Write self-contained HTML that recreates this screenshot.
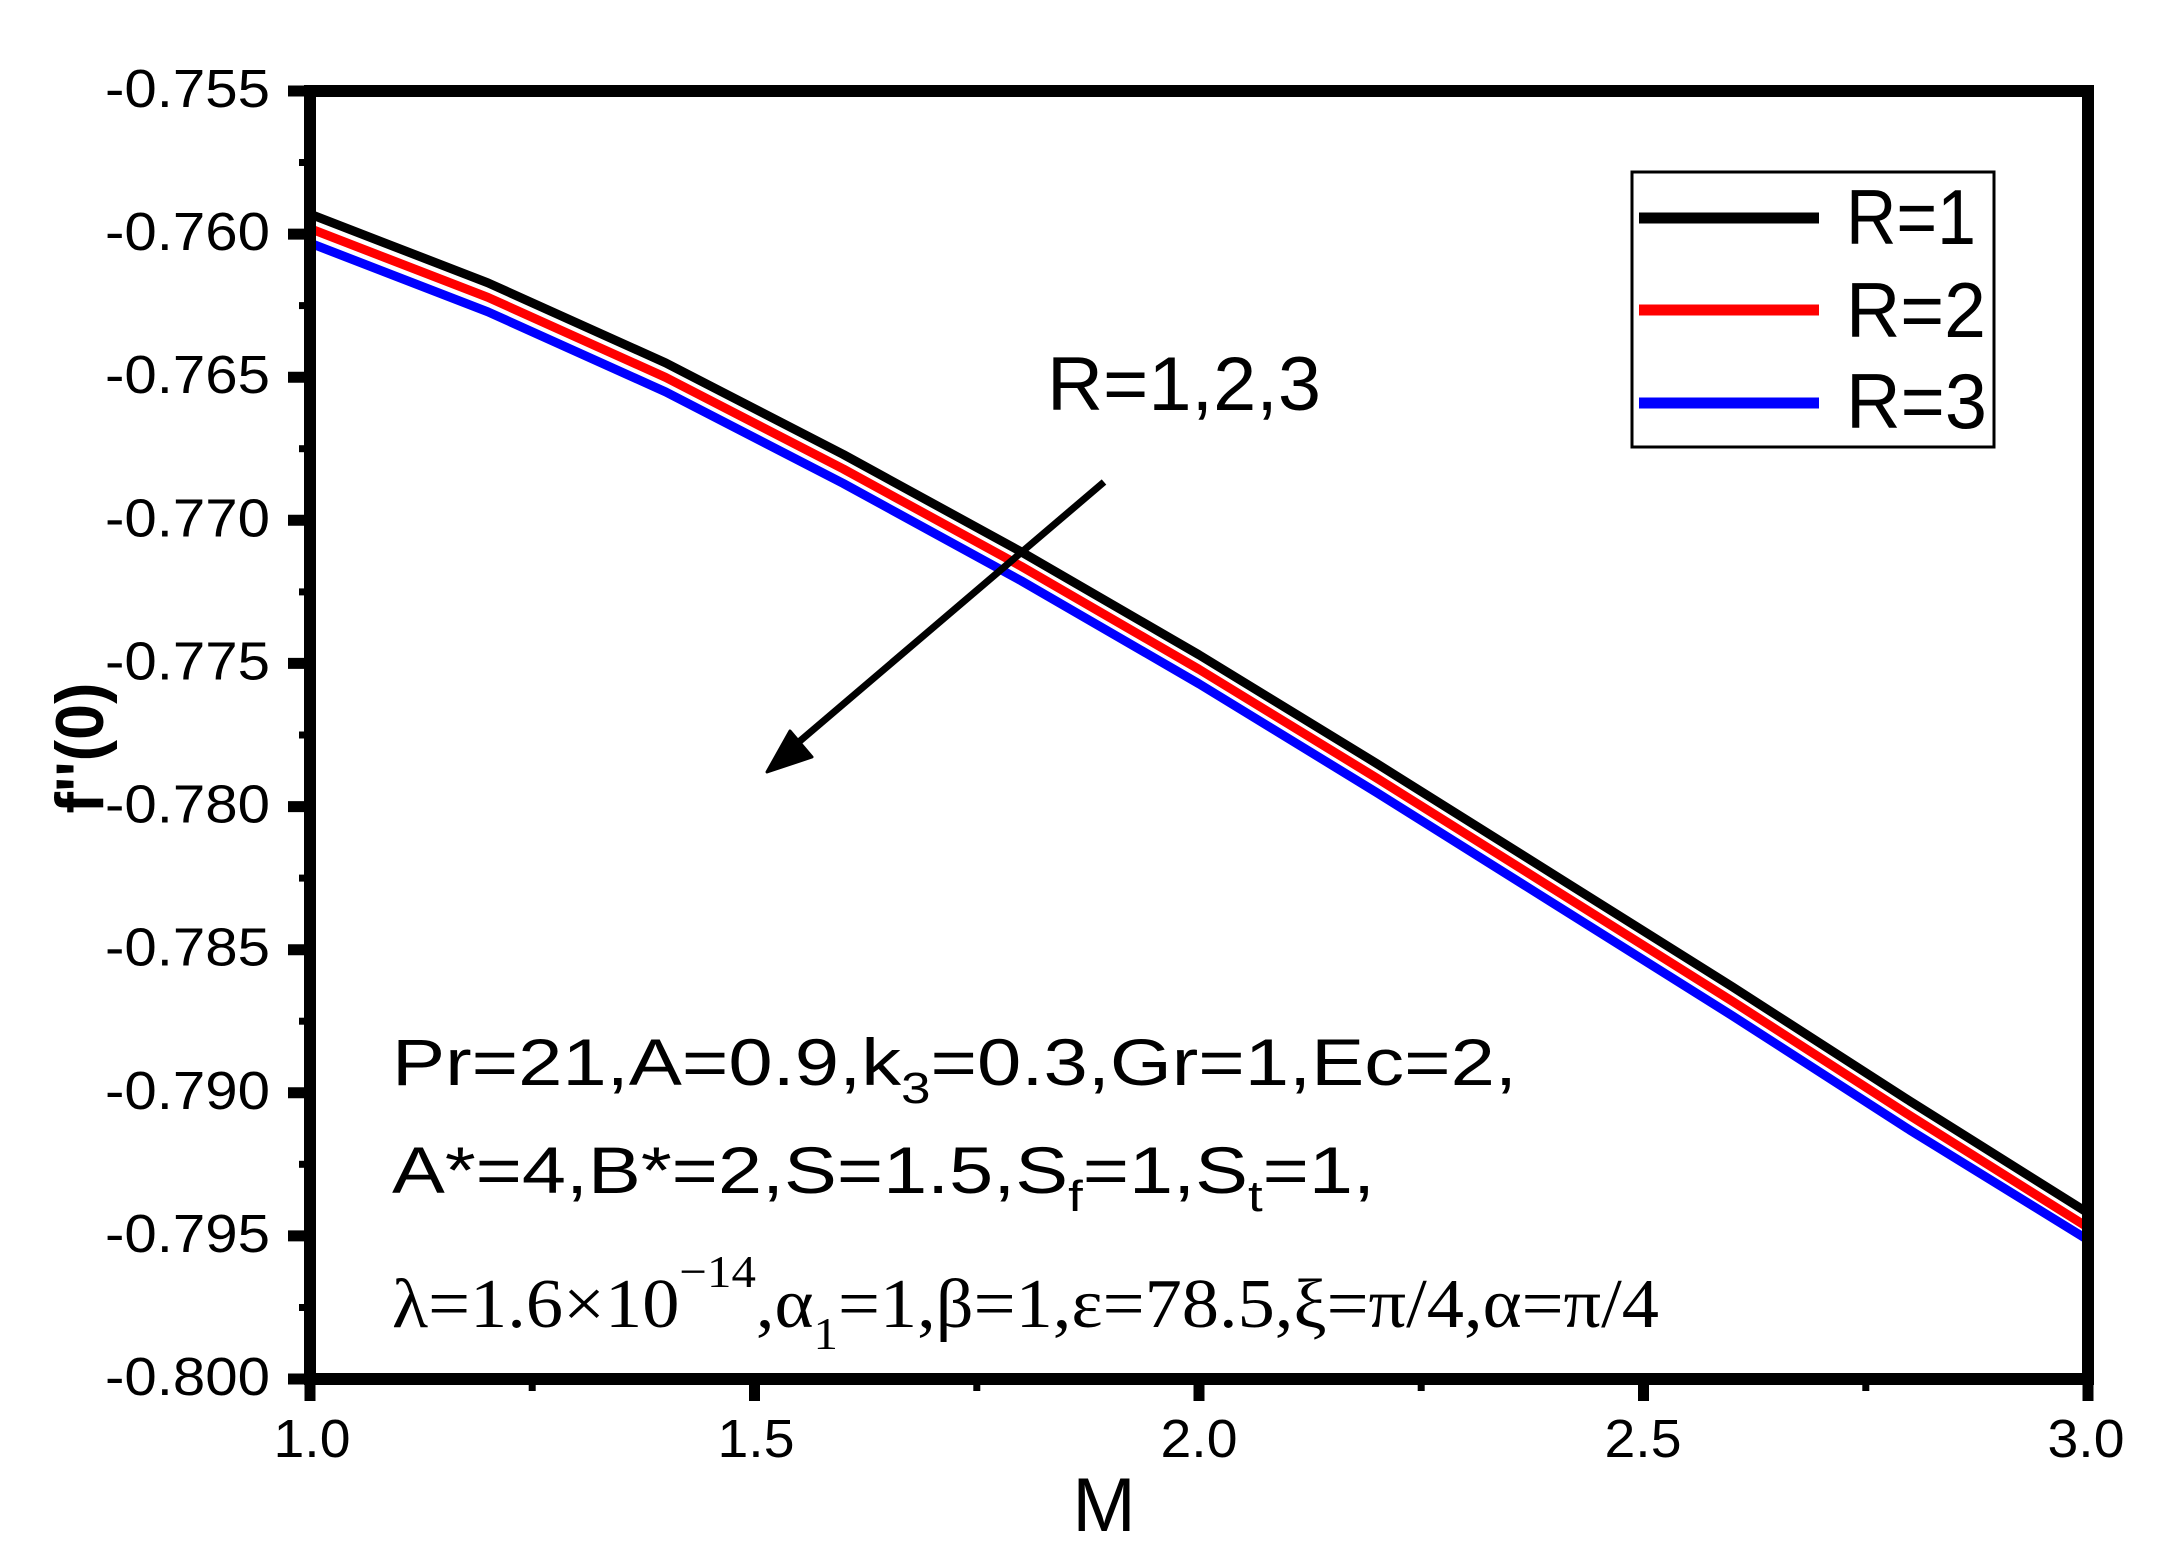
<!DOCTYPE html>
<html><head><meta charset="utf-8"><style>
html,body{margin:0;padding:0;background:#fff;}
svg{display:block;}
text{font-family:"Liberation Sans",Arial,sans-serif;fill:#000;}
</style></head><body>
<svg width="2160" height="1568" viewBox="0 0 2160 1568" xmlns="http://www.w3.org/2000/svg">
<rect width="2160" height="1568" fill="#fff"/>
<g fill="none" stroke-width="9" stroke-linejoin="round">
<polyline stroke="#0000ff" transform="translate(0,29)" points="310,214.1 487.8,282.8 665.6,362.9 843.4,454.5 1021.2,551.8 1199,654.8 1376.8,763.6 1554.6,875.2 1732.4,986.8 1910.2,1101.3 2088,1210.9"/>
<polyline stroke="#ff0000" transform="translate(0,14.5)" points="310,214.1 487.8,282.8 665.6,362.9 843.4,454.5 1021.2,551.8 1199,654.8 1376.8,763.6 1554.6,875.2 1732.4,986.8 1910.2,1101.3 2088,1212.9"/>
<polyline stroke="#000" points="310,214.1 487.8,282.8 665.6,362.9 843.4,454.5 1021.2,551.8 1199,654.8 1376.8,763.6 1554.6,875.2 1732.4,986.8 1910.2,1101.3 2088,1212.9"/>
</g>
<rect x="310" y="91" width="1778" height="1288" fill="none" stroke="#000" stroke-width="12"/>
<g stroke="#000">
<g stroke-width="11">
<line x1="288" x2="310" y1="91" y2="91"/><line x1="288" x2="310" y1="234.1" y2="234.1"/><line x1="288" x2="310" y1="377.2" y2="377.2"/><line x1="288" x2="310" y1="520.3" y2="520.3"/><line x1="288" x2="310" y1="663.4" y2="663.4"/><line x1="288" x2="310" y1="806.6" y2="806.6"/><line x1="288" x2="310" y1="949.7" y2="949.7"/><line x1="288" x2="310" y1="1092.8" y2="1092.8"/><line x1="288" x2="310" y1="1235.9" y2="1235.9"/><line x1="288" x2="310" y1="1379" y2="1379"/>
<line y1="1379" y2="1401" x1="310" x2="310"/><line y1="1379" y2="1401" x1="754.5" x2="754.5"/><line y1="1379" y2="1401" x1="1199" x2="1199"/><line y1="1379" y2="1401" x1="1643.5" x2="1643.5"/><line y1="1379" y2="1401" x1="2088" x2="2088"/>
</g>
<g stroke-width="7">
<line x1="299" x2="310" y1="162.5" y2="162.5"/><line x1="299" x2="310" y1="305.6" y2="305.6"/><line x1="299" x2="310" y1="448.7" y2="448.7"/><line x1="299" x2="310" y1="591.9" y2="591.9"/><line x1="299" x2="310" y1="735" y2="735"/><line x1="299" x2="310" y1="878.1" y2="878.1"/><line x1="299" x2="310" y1="1021.2" y2="1021.2"/><line x1="299" x2="310" y1="1164.3" y2="1164.3"/><line x1="299" x2="310" y1="1307.5" y2="1307.5"/>
<line y1="1379" y2="1391" x1="532.2" x2="532.2"/><line y1="1379" y2="1391" x1="976.8" x2="976.8"/><line y1="1379" y2="1391" x1="1421.2" x2="1421.2"/><line y1="1379" y2="1391" x1="1865.8" x2="1865.8"/>
</g>
</g>
<g font-size="54" text-anchor="end">
<text x="270" y="107" textLength="165" lengthAdjust="spacingAndGlyphs">-0.755</text>
<text x="270" y="250.1" textLength="165" lengthAdjust="spacingAndGlyphs">-0.760</text>
<text x="270" y="393.2" textLength="165" lengthAdjust="spacingAndGlyphs">-0.765</text>
<text x="270" y="536.3" textLength="165" lengthAdjust="spacingAndGlyphs">-0.770</text>
<text x="270" y="679.4" textLength="165" lengthAdjust="spacingAndGlyphs">-0.775</text>
<text x="270" y="822.6" textLength="165" lengthAdjust="spacingAndGlyphs">-0.780</text>
<text x="270" y="965.7" textLength="165" lengthAdjust="spacingAndGlyphs">-0.785</text>
<text x="270" y="1108.8" textLength="165" lengthAdjust="spacingAndGlyphs">-0.790</text>
<text x="270" y="1251.9" textLength="165" lengthAdjust="spacingAndGlyphs">-0.795</text>
<text x="270" y="1395" textLength="165" lengthAdjust="spacingAndGlyphs">-0.800</text>
</g>
<g font-size="54" text-anchor="middle">
<text x="312" y="1457" textLength="77" lengthAdjust="spacingAndGlyphs">1.0</text>
<text x="756" y="1457" textLength="77" lengthAdjust="spacingAndGlyphs">1.5</text>
<text x="1199" y="1457" textLength="77" lengthAdjust="spacingAndGlyphs">2.0</text>
<text x="1643" y="1457" textLength="77" lengthAdjust="spacingAndGlyphs">2.5</text>
<text x="2086" y="1457" textLength="77" lengthAdjust="spacingAndGlyphs">3.0</text>
</g>
<text x="1104" y="1531" font-size="76" text-anchor="middle">M</text>
<text transform="translate(103,748) rotate(-90)" font-size="68" font-weight="bold" text-anchor="middle" textLength="131" lengthAdjust="spacingAndGlyphs">f''(0)</text>
<rect x="1632" y="172" width="362" height="275" fill="#fff" stroke="#000" stroke-width="3"/>
<g stroke-width="11">
<line x1="1639" x2="1819" y1="218" y2="218" stroke="#000"/>
<line x1="1639" x2="1819" y1="310" y2="310" stroke="#ff0000"/>
<line x1="1639" x2="1819" y1="403" y2="403" stroke="#0000ff"/>
</g>
<g font-size="78">
<text x="1846" y="244" textLength="130" lengthAdjust="spacingAndGlyphs">R=1</text>
<text x="1846" y="337" textLength="140" lengthAdjust="spacingAndGlyphs">R=2</text>
<text x="1846" y="428" textLength="141" lengthAdjust="spacingAndGlyphs">R=3</text>
</g>
<text x="1047" y="410" font-size="76" textLength="274" lengthAdjust="spacingAndGlyphs">R=1,2,3</text>
<line x1="1104" y1="482" x2="780" y2="758" stroke="#000" stroke-width="7"/>
<polygon points="767,772 790,731 812,757" fill="#000" stroke="#000" stroke-width="3" stroke-linejoin="round"/>
<text x="392" y="1085" font-size="66" textLength="1125" lengthAdjust="spacingAndGlyphs">Pr=21,A=0.9,k<tspan font-size="44" dy="18">3</tspan><tspan dy="-18">=0.3,Gr=1,Ec=2,</tspan></text>
<text x="392" y="1193" font-size="66" textLength="983" lengthAdjust="spacingAndGlyphs">A*=4,B*=2,S=1.5,S<tspan font-size="44" dy="18">f</tspan><tspan dy="-18">=1,S</tspan><tspan font-size="44" dy="18">t</tspan><tspan dy="-18">=1,</tspan></text>
<text x="392" y="1327" font-size="70" style="font-family:'Liberation Serif','Times New Roman',serif" textLength="1267" lengthAdjust="spacingAndGlyphs">λ=1.6×10<tspan font-size="46" dy="-40">−14</tspan><tspan dy="40">,α</tspan><tspan font-size="46" dy="22">1</tspan><tspan dy="-22">=1,β=1,ε=78.5,ξ=π/4,α=π/4</tspan></text>
</svg>
</body></html>
